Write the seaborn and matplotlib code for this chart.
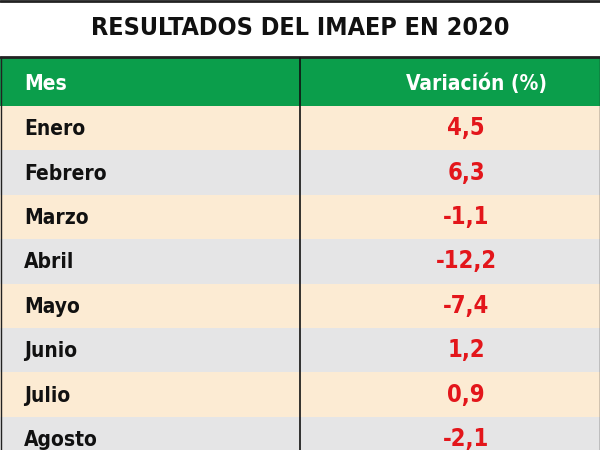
import matplotlib
matplotlib.use("Agg")
import matplotlib.pyplot as plt
from matplotlib.patches import Rectangle
import seaborn as sns
from matplotlib import font_manager

sns.set_theme(style="white")

title = "RESULTADOS DEL IMAEP EN 2020"
headers = ["Mes", "Variación (%)"]
months = ["Enero", "Febrero", "Marzo", "Abril", "Mayo", "Junio", "Julio", "Agosto"]
values = ["4,5", "6,3", "-1,1", "-12,2", "-7,4", "1,2", "0,9", "-2,1"]

names = {f.name for f in font_manager.fontManager.ttflist}
fam = "Liberation Sans Narrow" if "Liberation Sans Narrow" in names else "DejaVu Sans"
stretch = "normal" if fam == "Liberation Sans Narrow" else "condensed"

fig = plt.figure(figsize=(6, 4.5), dpi=100)
ax = fig.add_axes([0, 0, 1, 1])
ax.set_xlim(0, 600)
ax.set_ylim(450, 0)
ax.axis("off")

green = "#0b9e4b"; beige = "#fcebd3"; gray = "#e5e5e6"
ax.add_patch(Rectangle((0, 58), 600, 48, color=green, lw=0))
row_h = 44.4
y0 = 106
for i, (m, v) in enumerate(zip(months, values)):
    y = y0 + i * row_h
    ax.add_patch(Rectangle((0, y), 600, row_h, color=beige if i % 2 == 0 else gray, lw=0))
    ax.text(24, y + row_h / 2 + 1, m, fontsize=15, fontweight="bold", family=fam,
            fontstretch=stretch, va="center", ha="left", color="#111111")
    ax.text(466, y + row_h / 2, v, fontsize=17, fontweight="bold", family=fam,
            fontstretch=stretch, va="center", ha="center", color="#e3161b")

ax.text(300, 28, title, fontsize=18, fontweight="bold", family=fam, fontstretch=stretch,
        ha="center", va="center", color="#111111")
ax.text(24, 84, headers[0], fontsize=15, fontweight="bold", family=fam, fontstretch=stretch,
        ha="left", va="center", color="white")
ax.text(476, 84, headers[1], fontsize=15, fontweight="bold", family=fam, fontstretch=stretch,
        ha="center", va="center", color="white")

ax.plot([0, 600], [1, 1], color="#222222", lw=2)
ax.plot([0, 600], [57, 57], color="#222222", lw=2)
ax.plot([300, 300], [58, 450], color="#111111", lw=1.2)
ax.plot([0.5, 0.5], [57, 450], color="#222222", lw=1)
ax.plot([599.5, 599.5], [57, 450], color="#222222", lw=1)

fig.savefig("out.png", dpi=100)
